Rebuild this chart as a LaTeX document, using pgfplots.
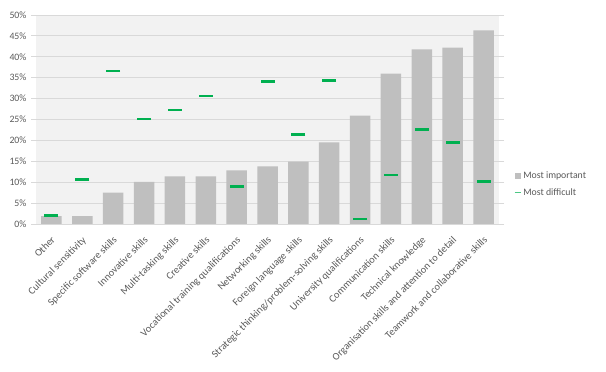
\documentclass[border=0pt]{standalone}
\usepackage{pgfplots}
\pgfplotsset{compat=1.18}
\usepackage{fontspec}
\setmainfont{Carlito}
\definecolor{bargray}{HTML}{BFBFBF}
\definecolor{bggray}{HTML}{F2F2F2}
\definecolor{gridgray}{HTML}{D9D9D9}
\definecolor{txtgray}{HTML}{595959}
\definecolor{dgreen}{HTML}{00B050}
\begin{document}
\begin{tikzpicture}[x=1pt,y=1pt]
\begin{axis}[
  at={(36pt,148pt)}, anchor=south west,
  scale only axis, width=463pt, height=209pt,
  xmin=-0.5, xmax=14.5, ymin=0, ymax=50,
  axis background/.style={fill=bggray},
  axis line style={draw=none},
  ytick={0,5,...,50},
  yticklabel={\pgfmathprintnumber[fixed,precision=0]{\tick}\%},
  /pgf/number format/assume math mode=true,
  ymajorgrids, grid style={gridgray, line width=0.8pt},
  major tick length=5pt,
  tick align=outside,
  ytick style={gridgray, line width=0.8pt},
  xtick={0,...,14},
  xticklabels={Other,Cultural sensitivity,Specific software skills,Innovative skills,Multi-tasking skills,Creative skills,Vocational training qualifications,Networking skills,Foreign language skills,Strategic thinking/problem-solving skills,University qualifications,Communication skills,Technical knowledge,Organisation skills and attention to detail,Teamwork and collaborative skills},
  xtick style={draw=none},
  minor xtick={-0.5,0.5,...,14.5},
  minor tick length=5pt,
  minor x tick style={gridgray, line width=0.8pt},
  xticklabel style={rotate=45, anchor=north east, inner sep=1pt, yshift=-3pt, xshift=-4pt, font=\fontsize{10.3}{12}\selectfont},
  yticklabel style={xshift=-1pt, font=\fontsize{9.8}{11}\selectfont},
  tick label style={text=txtgray},
  extra description/.code={\draw[gridgray, line width=0.8pt] (axis cs:-0.5,0) -- (axis cs:14.5,0);},
  legend style={at={(1.025,0.19)}, anchor=west, draw=none, fill=none,
    font=\fontsize{9.8}{11}\selectfont, text=txtgray, row sep=4pt,
    legend cell align=left},
  legend image code/.code={},
]
\addplot[ybar, bar width=20.5pt, fill=bargray, draw=none,
  legend image code/.code={\fill[bargray] (0pt,-3pt) rectangle (6pt,3pt);}]
  coordinates {(0,1.9) (1,1.9) (2,7.5) (3,10.1) (4,11.4) (5,11.4) (6,12.8) (7,13.8) (8,14.9) (9,19.5) (10,25.9) (11,36.0) (12,41.8) (13,42.2) (14,46.3)};
\addlegendentry{Most important}
\addplot[only marks, mark=-, mark size=7pt, mark options={line width=2.6pt, draw=dgreen},
  legend image code/.code={\draw[dgreen!70, line width=1.5pt] (0pt,0pt) -- (6pt,0pt);}]
  coordinates {(0,2.1) (1,10.7) (2,36.6) (3,25.1) (4,27.3) (5,30.6) (6,9.0) (7,34.1) (8,21.4) (9,34.4) (10,1.2) (11,11.7) (12,22.6) (13,19.5) (14,10.2)};
\addlegendentry{Most difficult}
\end{axis}
\pgfresetboundingbox
\path (0,0) rectangle (606pt,372pt);
\end{tikzpicture}
\end{document}
